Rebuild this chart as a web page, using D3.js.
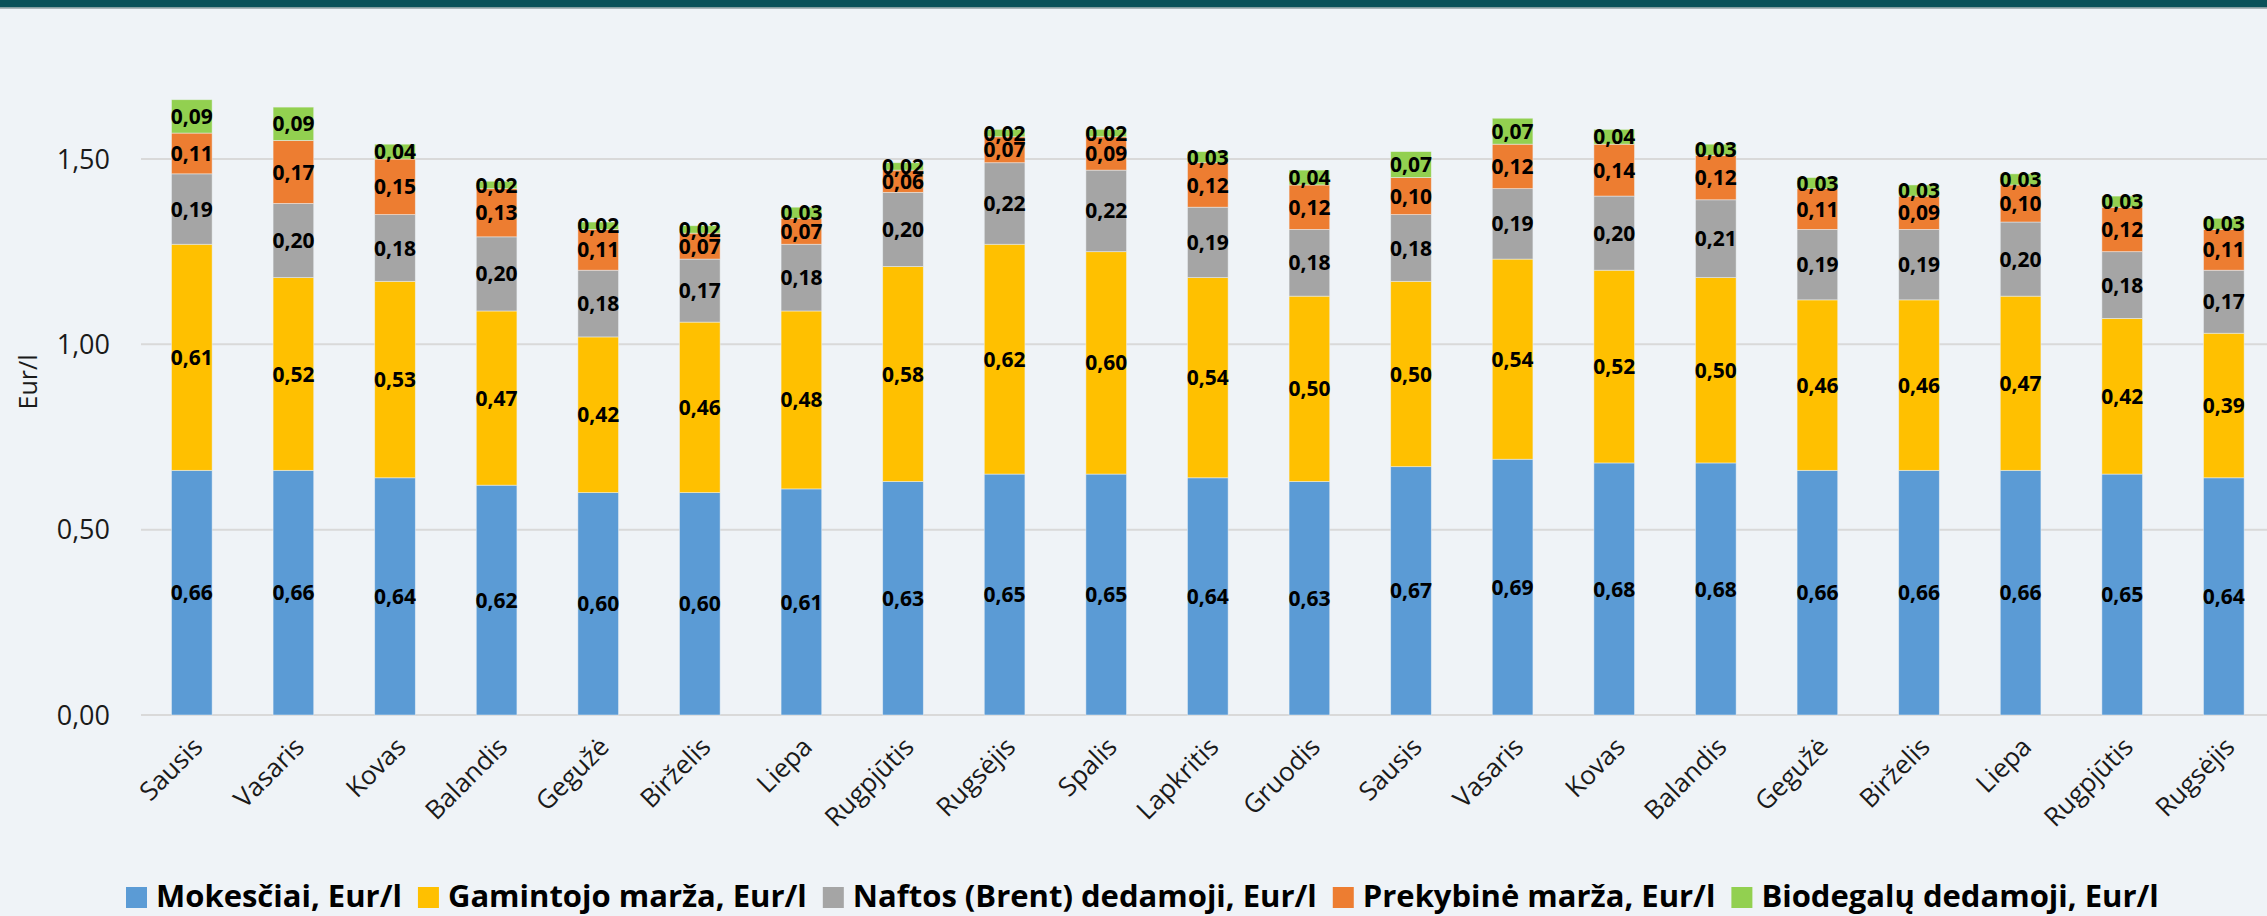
<!DOCTYPE html>
<html>
<head>
<meta charset="utf-8">
<script src="https://cdn.jsdelivr.net/npm/d3@7/dist/d3.min.js"></script>
<style>
  html, body { margin: 0; padding: 0; background: #eff3f7; }
  svg { display: block; font-family: "Open Sans", sans-serif; }
</style>
</head>
<body>
<svg width="2267" height="916"></svg>
<script>
var months = ["Sausis","Vasaris","Kovas","Balandis","Gegužė","Birželis","Liepa","Rugpjūtis","Rugsėjis","Spalis","Lapkritis","Gruodis","Sausis","Vasaris","Kovas","Balandis","Gegužė","Birželis","Liepa","Rugpjūtis","Rugsėjis"];

var mokesciai = [0.66,0.66,0.64,0.62,0.60,0.60,0.61,0.63,0.65,0.65,0.64,0.63,0.67,0.69,0.68,0.68,0.66,0.66,0.66,0.65,0.64];
var gamintojo = [0.61,0.52,0.53,0.47,0.42,0.46,0.48,0.58,0.62,0.60,0.54,0.50,0.50,0.54,0.52,0.50,0.46,0.46,0.47,0.42,0.39];
var naftos    = [0.19,0.20,0.18,0.20,0.18,0.17,0.18,0.20,0.22,0.22,0.19,0.18,0.18,0.19,0.20,0.21,0.19,0.19,0.20,0.18,0.17];
var prekybine = [0.11,0.17,0.15,0.13,0.11,0.07,0.07,0.06,0.07,0.09,0.12,0.12,0.10,0.12,0.14,0.12,0.11,0.09,0.10,0.12,0.11];
var biodegalu = [0.09,0.09,0.04,0.02,0.02,0.02,0.03,0.02,0.02,0.02,0.03,0.04,0.07,0.07,0.04,0.03,0.03,0.03,0.03,0.03,0.03];

var seriesNames = ["Mokesčiai, Eur/l","Gamintojo marža, Eur/l","Naftos (Brent) dedamoji, Eur/l","Prekybinė marža, Eur/l","Biodegalų dedamoji, Eur/l"];
var colors = ["#5b9bd5","#ffc000","#a5a5a5","#ed7d31","#92d050"];
var yTicks = [0, 0.5, 1, 1.5];

var svg = d3.select("svg");
var comma = function(v) { return d3.format(".2f")(v).replace(".", ","); };

// header band
svg.append("rect").attr("x",0).attr("y",0).attr("width",2267).attr("height",7.5).attr("fill","#0a5159");
svg.append("rect").attr("x",0).attr("y",7.5).attr("width",2267).attr("height",1.2).attr("fill","#8d9c9e");

var keys = d3.range(5);
var table = months.map(function(m, i) {
  return {i: i, 0: mokesciai[i], 1: gamintojo[i], 2: naftos[i], 3: prekybine[i], 4: biodegalu[i]};
});
var stacked = d3.stack().keys(keys)(table);

var x = d3.scaleBand()
  .domain(d3.range(months.length))
  .range([141, 141 + 21 * 101.6])
  .paddingInner(0.6)
  .paddingOuter(0.3);

var y = d3.scaleLinear()
  .domain([0, 1.5])
  .range([715, 159]);

// gridlines and y labels
var grid = svg.append("g");
grid.selectAll("line")
  .data(yTicks)
  .enter().append("line")
  .attr("x1",141).attr("x2",2267)
  .attr("y1", function(d) { return y(d); })
  .attr("y2", function(d) { return y(d); })
  .attr("stroke","#d9d9d9").attr("stroke-width",2);

grid.selectAll("text")
  .data(yTicks)
  .enter().append("text")
  .attr("x",110)
  .attr("y", function(d) { return y(d); })
  .attr("dy","0.36em")
  .attr("text-anchor","end")
  .attr("font-size",27)
  .attr("fill","#1a1a1a")
  .text(comma);

// bars
var layers = svg.append("g").selectAll("g")
  .data(stacked)
  .enter().append("g")
  .attr("fill", function(d) { return colors[d.key]; });

layers.selectAll("rect")
  .data(function(d) { return d; })
  .enter().append("rect")
  .attr("x", function(d) { return x(d.data.i); })
  .attr("width", x.bandwidth())
  .attr("y", function(d) { return y(d[1]); })
  .attr("height", function(d) { return y(d[0]) - y(d[1]); })
  .attr("stroke","#eff3f7").attr("stroke-opacity",0.6).attr("stroke-width",0.8);

// data labels
layers.selectAll("text")
  .data(function(d) { return d; })
  .enter().append("text")
  .attr("x", function(d) { return x(d.data.i) + x.bandwidth() / 2; })
  .attr("y", function(d) { return (y(d[0]) + y(d[1])) / 2; })
  .attr("dy","0.36em")
  .attr("text-anchor","middle")
  .attr("font-size",21)
  .attr("font-weight","bold")
  .attr("fill","#000")
  .text(function(d) { return comma(d[1] - d[0]); });

// x labels
svg.append("g").selectAll("text")
  .data(months)
  .enter().append("text")
  .attr("transform", function(d, i) {
    return "translate(" + (x(i) + x.bandwidth() / 2 + 6) + ",742) rotate(-45)";
  })
  .attr("text-anchor","end")
  .attr("dy","0.35em")
  .attr("font-size",26)
  .attr("fill","#1a1a1a")
  .text(function(d) { return d; });

// y title
svg.append("text")
  .attr("transform","translate(37,382) rotate(-90)")
  .attr("text-anchor","middle")
  .attr("font-size",25)
  .attr("fill","#1a1a1a")
  .text("Eur/l");

// legend
var lx = 126;
var legend = svg.append("g");
seriesNames.forEach(function(name, i) {
  legend.append("rect").attr("x", lx).attr("y", 887).attr("width", 21).attr("height", 21).attr("fill", colors[i]);
  var t = legend.append("text").attr("x", lx + 30).attr("y", 907)
    .attr("font-size", 31).attr("font-weight","bold").attr("fill","#000").text(name);
  lx = lx + 30 + t.node().getComputedTextLength() + 16;
});
</script>
</body>
</html>
